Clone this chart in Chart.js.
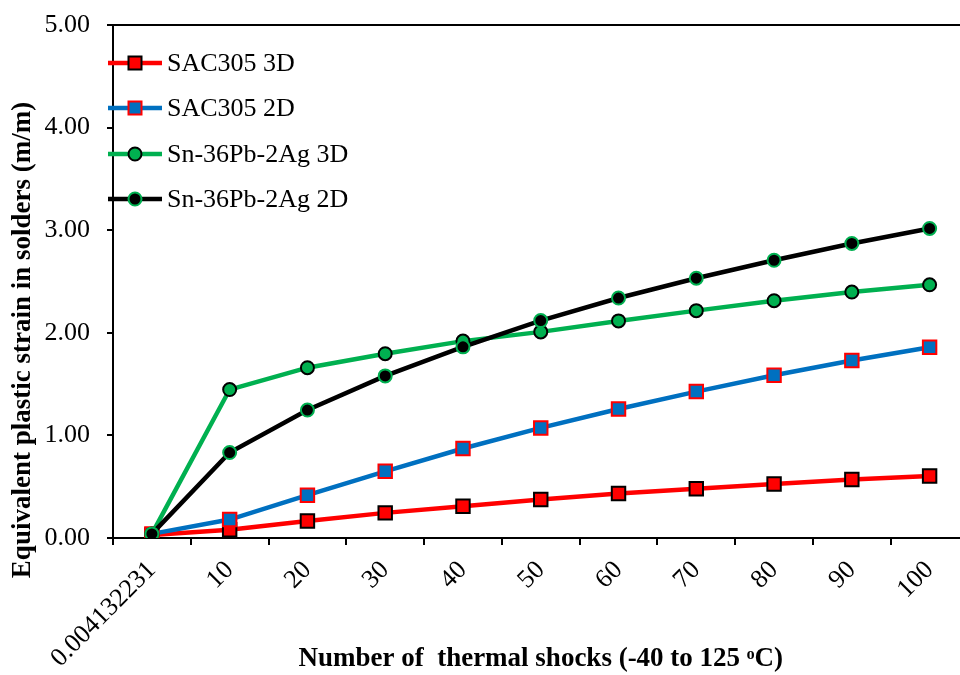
<!DOCTYPE html>
<html>
<head>
<meta charset="utf-8">
<script src="https://cdn.jsdelivr.net/npm/chart.js@4/dist/chart.umd.min.js"></script>
<style>
html,body{margin:0;padding:0;background:#fff;overflow:hidden;width:960px;height:675px;}
#wrap{position:absolute;left:0;top:0;width:980px;height:675px;}
</style>
</head>
<body>
<div id="wrap"><canvas id="c" width="980" height="675"></canvas></div>
<script>
const categories = ['0.004132231','10','20','30','40','50','60','70','80','90','100'];
const sac305_3D = [0.03, 0.08, 0.165, 0.245, 0.31, 0.375, 0.433, 0.48, 0.526, 0.57, 0.604];
const sac305_2D = [0.04, 0.18, 0.417, 0.65, 0.872, 1.073, 1.257, 1.427, 1.586, 1.73, 1.86];
const snpb_3D = [0.04, 1.447, 1.66, 1.796, 1.919, 2.009, 2.116, 2.216, 2.313, 2.397, 2.468];
const snpb_2D = [0.04, 0.833, 1.247, 1.58, 1.863, 2.119, 2.339, 2.532, 2.707, 2.871, 3.017];
const seriesNames = ['SAC305 3D','SAC305 2D','Sn-36Pb-2Ag 3D','Sn-36Pb-2Ag 2D'];
const xTitle = 'Number of  thermal shocks (-40 to 125 \u1D52C)';
const yTitle = 'Equivalent plastic strain in solders (m/m)';

const SERIF = '"Liberation Serif", "Times New Roman", serif';

function ds(label, data, color, style, fill, border, order){
  return {label, data, borderColor: color, borderWidth: 4.5, tension: 0,
    pointStyle: style, pointRadius: style === 'rect' ? 9.5 : 6.5,
    pointBackgroundColor: fill, pointBorderColor: border, pointBorderWidth: 2,
    pointHoverRadius: style === 'rect' ? 9.5 : 6.5, order, fill: false};
}

const legendPlugin = {
  id: 'customLegend',
  afterDraw(chart){
    const ctx = chart.ctx;
    const rows = [63, 108, 154, 199];
    chart.data.datasets.forEach((d, i) => {
      const y = rows[i];
      ctx.save();
      ctx.strokeStyle = d.borderColor; ctx.lineWidth = d.borderWidth;
      ctx.beginPath(); ctx.moveTo(108, y); ctx.lineTo(162, y); ctx.stroke();
      ctx.fillStyle = d.pointBackgroundColor; ctx.strokeStyle = d.pointBorderColor; ctx.lineWidth = 2;
      ctx.beginPath();
      if (d.pointStyle === 'rect') { ctx.rect(135 - 6.5, y - 6.5, 13, 13); }
      else { ctx.arc(135, y, 6.5, 0, Math.PI * 2); }
      ctx.fill(); ctx.stroke();
      ctx.fillStyle = '#000'; ctx.font = '26px ' + SERIF; ctx.textBaseline = 'middle'; ctx.textAlign = 'left';
      ctx.fillText(d.label, 167, y + 1);
      ctx.restore();
    });
    // y-axis title
    ctx.save();
    ctx.translate(23, 340);
    ctx.rotate(-Math.PI / 2);
    ctx.fillStyle = '#000'; ctx.font = 'bold 27px ' + SERIF; ctx.textAlign = 'center'; ctx.textBaseline = 'middle';
    ctx.fillText(yTitle, 0, 0);
    ctx.restore();
  }
};

new Chart(document.getElementById('c'), {
  type: 'line',
  data: {
    labels: categories,
    datasets: [
      ds(seriesNames[0], sac305_3D, '#FF0000', 'rect', '#FF0000', '#000000', 4),
      ds(seriesNames[1], sac305_2D, '#0070C0', 'rect', '#0070C0', '#FF0000', 3),
      ds(seriesNames[2], snpb_3D, '#00B050', 'circle', '#00B050', '#000000', 2),
      ds(seriesNames[3], snpb_2D, '#000000', 'circle', '#000000', '#00B050', 1)
    ]
  },
  options: {
    responsive: false,
    animation: false,
    layout: {padding: {top: 25, right: 6, left: 0, bottom: 0}},
    plugins: {legend: {display: false}, tooltip: {enabled: false}},
    scales: {
      x: {
        type: 'category',
        offset: true,
        grid: {display: true, offset: true, drawOnChartArea: false, drawTicks: true, tickLength: 7, color: '#000', lineWidth: 2},
        border: {display: true, color: '#000', width: 2},
        ticks: {autoSkip: false, minRotation: 45, maxRotation: 45, color: '#000', font: {family: SERIF, size: 26}, padding: 10},
        title: {display: true, text: xTitle, color: '#000', font: {family: SERIF, size: 27, weight: 'bold'}, padding: {top: 0, bottom: 0}},
        afterFit(s){ s.height = 137; s.paddingTop = 0; }
      },
      y: {
        min: 0, max: 5,
        grid: {display: true, drawOnChartArea: true, drawTicks: true, tickLength: 6,
          color: (c) => (c.tick && c.tick.value === 5) ? '#000' : 'rgba(0,0,0,0)', tickColor: '#000', lineWidth: 2},
        border: {display: true, color: '#000', width: 2},
        ticks: {stepSize: 1, color: '#000', font: {family: SERIF, size: 26}, padding: 17, callback: (v) => Number(v).toFixed(2)},
        title: {display: false},
        afterFit(s){ s.width = 113; s.paddingTop = 0; s.paddingBottom = 0; }
      }
    }
  },
  plugins: [legendPlugin]
});
</script>
</body>
</html>
